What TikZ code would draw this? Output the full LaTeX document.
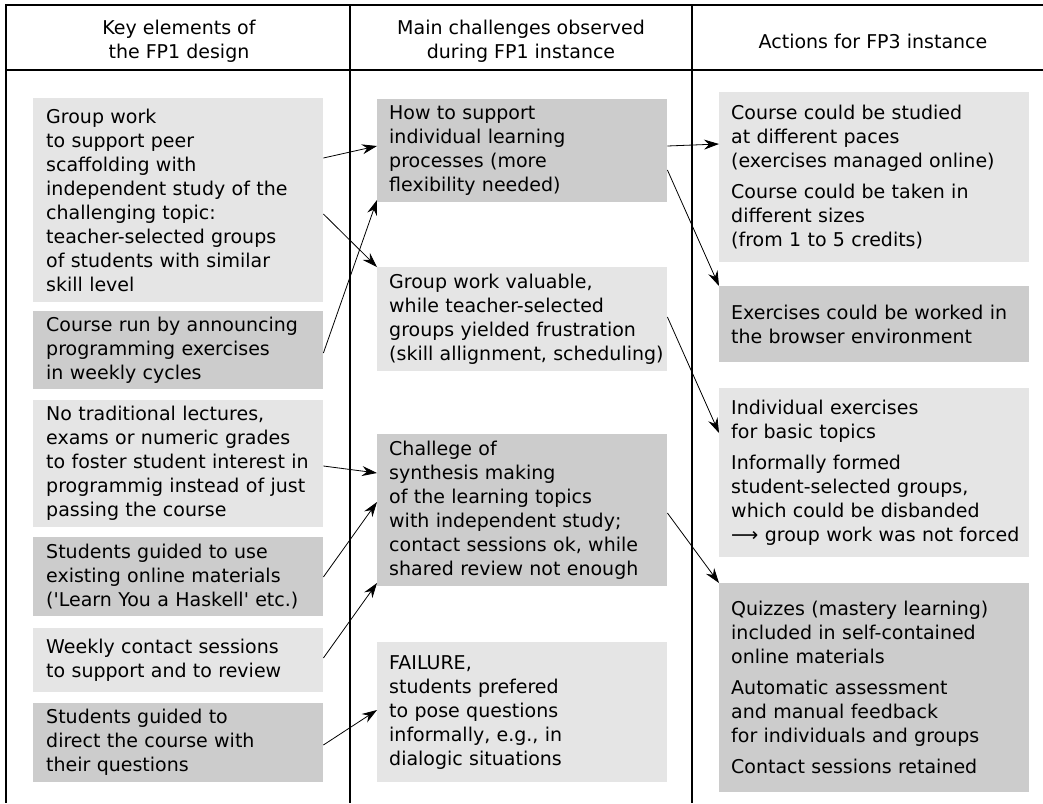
\documentclass[tikz,border=0pt]{standalone}
\usepackage{fontspec}
\setmainfont{DejaVu Sans}
\usetikzlibrary{arrows.meta}
\begin{document}
\begin{tikzpicture}
  [x=1pt,y=-1pt,every node/.style={font=\fontsize{19}{24}\selectfont},
   box/.style={anchor=north west,inner ysep=0pt,align=left},
   lbox/.style={box,inner xsep=13pt,text width=264pt},
   mbox/.style={box,inner xsep=12pt,text width=266pt},
   rbox/.style={box,inner xsep=12pt,text width=286pt},
   light/.style={fill=black!10},
   dark/.style={fill=black!20},
   rule/.style={line width=2.2pt},
   arr/.style={-{Stealth[length=15pt,width=10pt,inset=5pt]},line width=0.8pt}]
  \useasboundingbox (0,0) rectangle (1043,803);
  \draw[rule] (1043,5) -- (6,5) -- (6,803);
  \draw[rule] (6,70) -- (1043,70);
  \draw[rule] (350,5) -- (350,803);
  \draw[rule] (692,5) -- (692,803);

  \node[align=center] (h1) at (179,41) {Key elements of\\the FP1 design};
  \node[align=center] (h2) at (521,41) {Main challenges observed\\during FP1 instance};
  \node (h3) at (873,41) {Actions for FP3 instance};

  \node[lbox,light,minimum height=204pt] (L1) at (33,98) {Group work\\to support peer\\scaffolding with\\independent study of the\\challenging topic:\\teacher-selected groups\\of students with similar\\skill level};
  \node[lbox,dark,minimum height=78pt] (L2) at (33,311) {Course run by announcing\\programming exercises\\in weekly cycles};
  \node[lbox,light,minimum height=127pt] (L3) at (33,400) {No traditional lectures,\\exams or numeric grades\\\mbox{to foster student interest in}\\programmig instead of just\\passing the course};
  \node[lbox,dark,minimum height=79pt] (L4) at (33,537) {Students guided to use\\existing online materials\\(\textquotesingle Learn You a Haskell\textquotesingle{} etc.)};
  \node[lbox,light,minimum height=64pt] (L5) at (33,628) {Weekly contact sessions\\to support and to review};
  \node[lbox,dark,minimum height=79pt] (L6) at (33,703) {Students guided to\\direct the course with\\their questions};

  \node[mbox,dark,minimum height=103pt] (M1) at (377,99) {How to support\\individual learning\\processes (more\\flexibility needed)};
  \node[mbox,light,minimum height=104pt] (M2) at (377,267) {Group work valuable,\\while teacher-selected\\groups yielded frustration\\\mbox{(skill allignment, scheduling)}};
  \node[mbox,dark,minimum height=152pt] (M3) at (377,434) {Challege of\\synthesis making\\of the learning topics\\with independent study;\\contact sessions ok, while\\shared review not enough};
  \node[mbox,light,minimum height=140pt] (M4) at (377,642) {FAILURE,\\students prefered\\to pose questions\\informally, e.g., in\\dialogic situations};

  \node[rbox,light,minimum height=170pt] (R1) at (719,92) {Course could be studied\\at different paces\\(exercises managed online)\\[7pt]Course could be taken in\\different sizes\\(from 1 to 5 credits)};
  \node[rbox,dark,minimum height=76pt] (R2) at (719,286) {Exercises could be worked in\\the browser environment};
  \node[rbox,light,minimum height=169pt] (R3) at (719,388) {Individual exercises\\for basic topics\\[7pt]Informally formed\\student-selected groups,\\which could be disbanded\\\mbox{⟶ group work was not forced}};
  \node[rbox,dark,minimum height=209pt] (R4) at (719,583) {Quizzes (mastery learning)\\included in self-contained\\online materials\\[7pt]Automatic assessment\\and manual feedback\\for individuals and groups\\[7pt]Contact sessions retained};

  \foreach \a/\fy/\b/\ty in {L1/-60/M1/-47,L1/-116/M2/0,L2/-42/M1/-101,L3/-66/M3/-39,L4/-40/M3/-68,L5/-30/M3/-149,L6/-42/M4/-68,M1/-47/R1/-52,M1/-71/R2/0,M2/-50/R3/-45,M3/-79/R4/0}
    \draw[arr] ([yshift=\fy pt]\a.north east) -- ([yshift=\ty pt]\b.north west);
\end{tikzpicture}
\end{document}
